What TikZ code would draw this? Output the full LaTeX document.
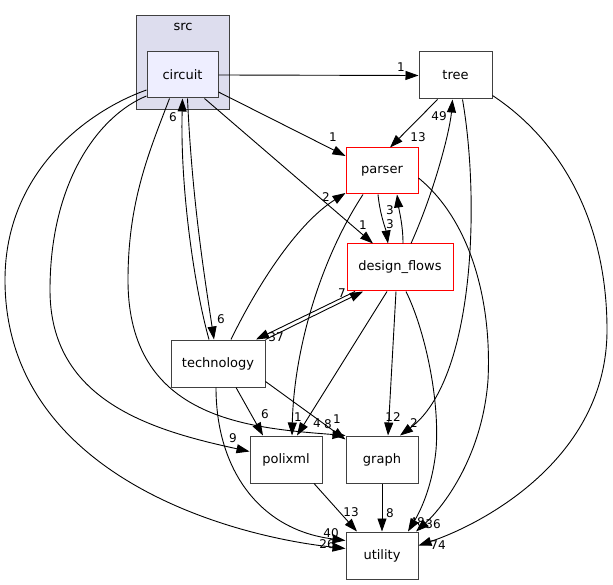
\documentclass[tikz,border=0pt]{standalone}
\usepackage{fontspec}
\setmainfont{DejaVu Sans}
\usepackage{tikz}
\usetikzlibrary{arrows.meta}
\definecolor{clusterfill}{RGB}{221,221,238}
\definecolor{dirfill}{RGB}{238,238,255}
\definecolor{boxline}{RGB}{64,64,64}

\begin{document}
\begin{tikzpicture}[x=1pt, y=-1pt,
  dirbox/.style={draw=boxline, fill=white, line width=1pt, rectangle, minimum width=72pt, minimum height=47pt, inner sep=0pt, font=\fontsize{13}{15}\selectfont},
  redbox/.style={dirbox, draw=red},
  deplabel/.style={font=\fontsize{12}{14}\selectfont, inner sep=0pt},
  dep/.style={->, line width=0.9pt},
  >={Triangle[length=13pt,width=9pt]}]
\useasboundingbox (0,0) rectangle (613,585);
% the src folder
\node[draw=boxline, fill=clusterfill, line width=1pt, minimum width=93pt, minimum height=94pt, inner sep=0pt] (src) at (182.5,63) {};
\node[font=\fontsize{13}{15}\selectfont] (srcname) at (183,27) {src};
\node[dirbox, fill=dirfill, minimum width=71pt, minimum height=46pt] (circuit) at (182.5,75) {circuit};
% directories
\node[dirbox, minimum width=73pt] (tree) at (455.5,75.5) {tree};
\node[redbox, minimum height=46pt] (parser) at (382,171) {parser};
\node[redbox, minimum width=106pt] (designflows) at (400,267.5) {design\_flows};
\node[dirbox, minimum width=94pt] (technology) at (218,363.5) {technology};
\node[dirbox] (polixml) at (286,459.5) {polixml};
\node[dirbox] (graph) at (382,459.5) {graph};
\node[dirbox] (utility) at (382,555.5) {utility};
% from circuit
\draw[dep] (circuit.east) -- (tree.west) node[deplabel] at (401,67) {1};
\draw[dep] ([yshift=-17pt]circuit.east) -- ([yshift=15pt]parser.west) node[deplabel] at (333,137) {1};
\draw[dep] ([xshift=22pt]circuit.south) -- ([xshift=-27pt]designflows.north) node[deplabel] at (363,225) {1};
\draw[dep] ([xshift=5pt]circuit.south) .. controls (192,200) and (205,280) .. ([xshift=-4pt]technology.north) node[deplabel] at (221,319) {6};
\draw[dep] ([yshift=-21pt]circuit.west) .. controls (100,115) and (50,180) .. (50,290) .. controls (50,400) and (150,430) .. ([yshift=8pt]polixml.west) node[deplabel] at (233,438) {9};
\draw[dep] ([yshift=-15pt]circuit.west) .. controls (90,110) and (5,170) .. (5,280) .. controls (5,470) and (220,535) .. ([yshift=7pt]utility.west) node[deplabel] at (327,544) {26};
\draw[dep] ([xshift=-13pt]circuit.south) .. controls (150,150) and (128,200) .. (128,280) .. controls (128,420) and (250,428) .. ([yshift=24pt]graph.west) node[deplabel] at (328,424) {8};
% from tree
\draw[dep] ([xshift=-18pt]tree.south) -- ([xshift=8pt]parser.north) node[deplabel] at (418,137) {13};
\draw[dep] ([xshift=7pt]tree.south) .. controls (480,200) and (475,380) .. ([xshift=18pt]graph.north) node[deplabel] at (414,423) {2};
\draw[dep] ([yshift=-20pt]tree.east) .. controls (560,140) and (607,220) .. (607,330) .. controls (607,460) and (480,525) .. ([yshift=10pt]utility.east) node[deplabel] at (438,545) {74};
% from parser
\draw[dep] ([xshift=-4pt]parser.south) .. controls (380,215) and (386,230) .. ([xshift=-12pt]designflows.north) node[deplabel] at (390,224) {3};
\draw[dep] ([xshift=-19pt]parser.south) .. controls (320,260) and (294,350) .. ([xshift=6pt]polixml.north) node[deplabel] at (298,417) {1};
\draw[dep] ([yshift=-7pt]parser.east) .. controls (470,220) and (492,300) .. (488,380) .. controls (482,460) and (440,510) .. ([xshift=34pt]utility.north) node[deplabel] at (433,524) {36};
% from design_flows
\draw[dep] ([xshift=11pt]designflows.north) .. controls (435,190) and (450,130) .. ([xshift=-3pt]tree.south) node[deplabel] at (439,116) {49};
\draw[dep] ([xshift=3pt]designflows.north) .. controls (403,225) and (399,210) .. ([xshift=15pt]parser.south) node[deplabel] at (390,210) {3};
\draw[dep] ([xshift=-45pt]designflows.south) -- ([xshift=38pt]technology.north) node[deplabel] at (276,337) {37};
\draw[dep] ([xshift=-13pt]designflows.south) -- ([xshift=11pt]polixml.north) node[deplabel] at (317,423) {4};
\draw[dep] ([xshift=-4pt]designflows.south) -- ([xshift=6pt]graph.north) node[deplabel] at (393,417) {12};
\draw[dep] ([xshift=6pt]designflows.south) .. controls (425,330) and (440,400) .. (436,450) .. controls (432,490) and (418,515) .. ([xshift=26pt]utility.north) node[deplabel] at (417,522) {48};
% from technology
\draw[dep] (technology.north east) -- ([xshift=-37pt]designflows.south) node[deplabel] at (342,293) {7};
\draw[dep] ([xshift=-9pt]technology.north) .. controls (195,290) and (180,190) .. (circuit.south) node[deplabel] at (173,117) {6};
\draw[dep] ([xshift=13pt]technology.north) .. controls (255,290) and (295,225) .. ([yshift=-22pt]parser.west) node[deplabel] at (326,197) {2};
\draw[dep] ([xshift=18pt]technology.south) -- ([xshift=-23pt]polixml.north) node[deplabel] at (265,414) {6};
\draw[dep] ([yshift=-18pt]technology.east) -- ([yshift=20pt]graph.west) node[deplabel] at (337,419) {1};
\draw[dep] ([xshift=-2pt]technology.south) .. controls (216,470) and (260,530) .. ([yshift=15pt]utility.west) node[deplabel] at (331,533) {40};
% into utility
\draw[dep] ([xshift=28pt]polixml.south) -- ([xshift=-25pt]utility.north) node[deplabel] at (351,512) {13};
\draw[dep] (graph.south) -- (utility.north) node[deplabel] at (390,513) {8};
\end{tikzpicture}
\end{document}
